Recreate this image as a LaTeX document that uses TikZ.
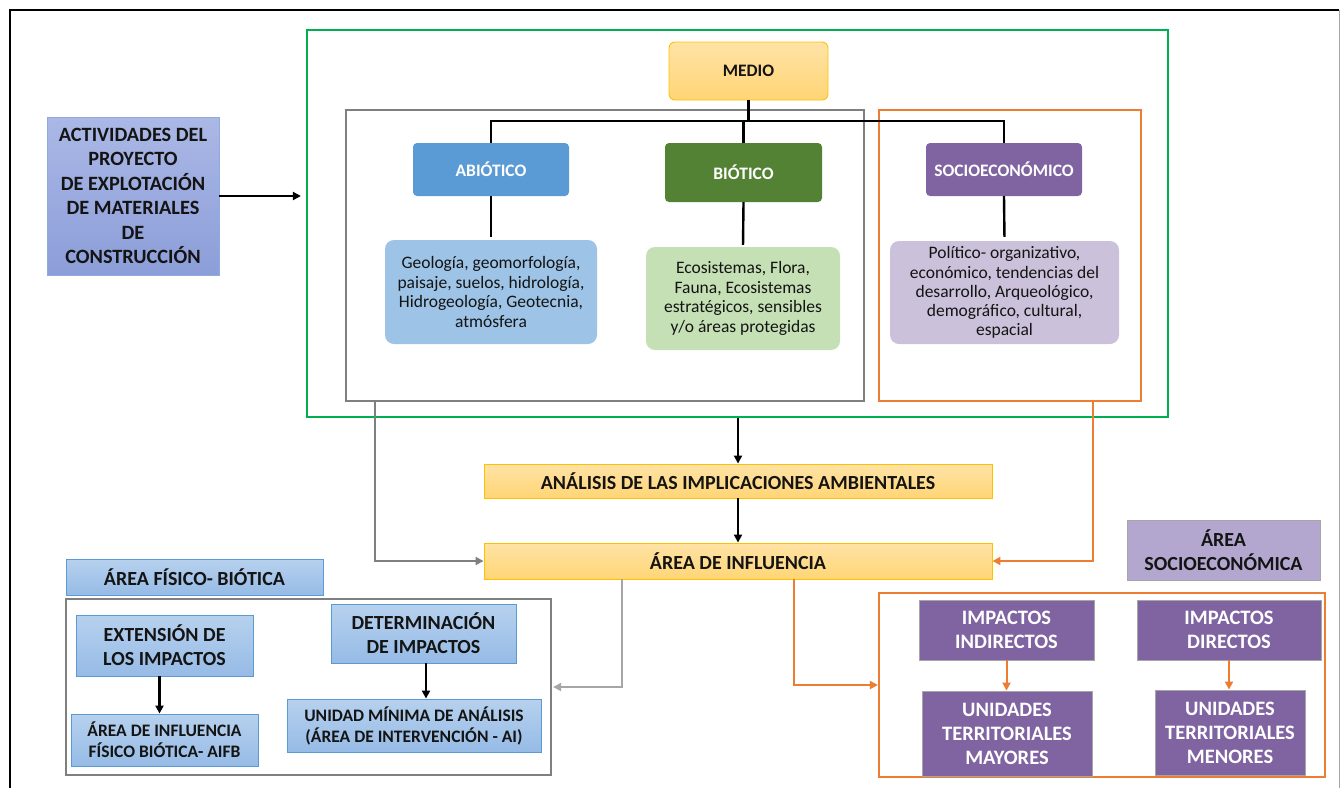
\documentclass[tikz,border=0pt]{standalone}
\usepackage{fontspec}
\setmainfont{Carlito}
\usetikzlibrary{arrows.meta}
\definecolor{cGreen}{HTML}{00B050}
\definecolor{cGrayL}{HTML}{7F7F7F}
\definecolor{cGrayLL}{HTML}{A6A6A6}
\definecolor{cOrange}{HTML}{ED7D31}
\definecolor{cYelB}{HTML}{FFC000}
\definecolor{cYelT}{HTML}{FFE3A6}
\definecolor{cYelBot}{HTML}{FFD575}
\definecolor{cBlue}{HTML}{5B9BD5}
\definecolor{cBlueL}{HTML}{9DC3E6}
\definecolor{cBlueT}{HTML}{B7D1EE}
\definecolor{cBlueBot}{HTML}{96BBE6}
\definecolor{cGreenD}{HTML}{548235}
\definecolor{cGreenL}{HTML}{C5E0B4}
\definecolor{cPurple}{HTML}{8064A2}
\definecolor{cPurpleL}{HTML}{CCC1DA}
\definecolor{cPurpleM}{HTML}{B4A7CF}
\definecolor{cActT}{HTML}{ABB8E6}
\definecolor{cActBot}{HTML}{8C9ED9}
\definecolor{cActB}{HTML}{8FAADC}
\definecolor{cTxt}{HTML}{141414}
\begin{document}
\begin{tikzpicture}[x=1pt,y=-1pt,
  bx/.style={inner sep=0pt, align=center, text=cTxt, font=\bfseries\fontsize{20}{24}\selectfont},
  hd/.style={font=\bfseries\fontsize{17.5}{21}\selectfont},
  sm/.style={font=\bfseries\fontsize{17.5}{21}\selectfont},
  desc/.style={inner sep=0pt, align=center, rounded corners=9pt, text=cTxt, font=\fontsize{17.5}{19.5}\selectfont},
  yel/.style={bx, draw=cYelB, line width=0.9pt, top color=cYelT, bottom color=cYelBot},
  blu/.style={bx, draw=cBlue, line width=0.9pt, top color=cBlueT, bottom color=cBlueBot},
  pur/.style={bx, draw=cGrayLL, line width=0.9pt, fill=cPurple, text=white, font=\bfseries\fontsize{20.5}{24}\selectfont},
  head/.style={bx, hd, rounded corners=4pt, text=white},
  frame/.style={inner sep=0pt, line width=2.2pt},
  arr/.style={line width=2.2pt, -{Triangle[length=8pt,width=8pt]}},
  tree/.style={line width=2.4pt},
]
\useasboundingbox (0,0) rectangle (1341,788);
% outer frame
\draw[line width=2.8pt, black] (10,788) -- (10,10) -- (1339,10);
\draw[line width=1pt, cGrayLL] (1339,10) -- (1339,788);

% frames
\node[frame, draw=cGreen, minimum width=861pt, minimum height=387pt] (green) at (737.5,223.5) {};
\node[frame, draw=cGrayL, minimum width=518pt, minimum height=291pt] (gray) at (605,255.5) {};
\node[frame, draw=cOrange, minimum width=262pt, minimum height=291pt] (orT) at (1010,255.5) {};
\node[frame, draw=cGrayL, minimum width=485pt, minimum height=176pt] (llg) at (308.5,687) {};
\node[frame, draw=cOrange, minimum width=446pt, minimum height=184pt] (lro) at (1102,685) {};

% left activity box
\node[bx, draw=cActB, line width=0.9pt, top color=cActT, bottom color=cActBot,
  minimum width=172pt, minimum height=158pt, font=\bfseries\fontsize{20.3}{24.4}\selectfont] (act) at (133,196)
  {ACTIVIDADES DEL\\PROYECTO\\DE EXPLOTACIÓN\\DE MATERIALES\\DE\\CONSTRUCCIÓN};

% top tree
\node[yel, hd, rounded corners=6pt, minimum width=159pt, minimum height=58pt] (medio) at (748.5,71) {MEDIO};
\node[head, fill=cBlue, minimum width=156pt, minimum height=53pt] (abio) at (491,169.5) {ABIÓTICO};
\node[head, fill=cGreenD, minimum width=157pt, minimum height=59pt] (bio) at (743.5,172.5) {BIÓTICO};
\node[head, fill=cPurple, minimum width=156pt, minimum height=53pt] (soc) at (1004,169.5) {SOCIOECONÓMICO};
\node[desc, fill=cBlueL, minimum width=212pt, minimum height=104pt] (abiod) at (491,292)
  {Geología, geomorfología,\\paisaje, suelos, hidrología,\\Hidrogeología, Geotecnia,\\atmósfera};
\node[desc, fill=cGreenL, minimum width=194pt, minimum height=103pt] (biod) at (743,298.5)
  {Ecosistemas, Flora,\\Fauna, Ecosistemas\\estratégicos, sensibles\\y/o áreas protegidas};
\node[desc, fill=cPurpleL, minimum width=229pt, minimum height=103pt, font=\fontsize{17.5}{19.1}\selectfont] (socd) at (1004.5,292.5)
  {Político- organizativo,\\económico, tendencias del\\desarrollo, Arqueológico,\\demográfico, cultural,\\espacial};

\coordinate (tj) at (748.5,121);
\draw[tree] (medio.south) -- (tj);
\draw[tree] (abio.north) |- (tj);
\draw[tree] (tj) -| (soc.north);
\draw[tree] (bio.north) -- (bio.north |- tj);
\draw[tree, shorten >=3pt] (abio.south) -- (abiod.north);
\draw[tree, shorten >=2pt] (bio.south) -- (biod.north);
\draw[tree, shorten >=4pt] (soc.south) -- (socd.north);

% middle chain
\node[yel, minimum width=508pt, minimum height=34pt] (anal) at (738,481) {ANÁLISIS DE LAS IMPLICACIONES AMBIENTALES};
\node[yel, minimum width=508pt, minimum height=36pt] (area) at (738,561) {ÁREA DE INFLUENCIA};

\draw[arr, shorten >=5pt] (act.east) -- (act.east -| green.west);
\draw[arr] (anal.north |- green.south) -- (anal.north);
\draw[arr] (anal.south) -- (area.north);
\draw[arr, cGrayL, line width=2.6pt] ([xshift=30pt]gray.south west) |- (area.west);
\draw[arr, cOrange, line width=2pt] ([xshift=-49pt]orT.south east) |- (area.east);
\draw[arr, cGrayLL, line width=2.6pt, shorten >=1pt] ([xshift=-116pt]area.south) |- (llg.east);
\draw[arr, cOrange, line width=2pt] ([xshift=56pt]area.south) |- (lro.west);

% lower left
\node[blu, minimum width=257pt, minimum height=36pt] (afb) at (194.5,577) {ÁREA FÍSICO- BIÓTICA};
\node[blu, minimum width=177pt, minimum height=61pt] (ext) at (164.5,645.5) {EXTENSIÓN DE\\LOS IMPACTOS};
\node[blu, sm, minimum width=187pt, minimum height=52pt] (aifb) at (164.5,740)
  {ÁREA DE INFLUENCIA\\FÍSICO BIÓTICA- AIFB};
\node[blu, minimum width=185pt, minimum height=59pt] (det) at (423.5,633.5) {DETERMINACIÓN\\DE IMPACTOS};
\node[blu, sm, minimum width=254pt, minimum height=53pt] (uma) at (414,725.5)
  {UNIDAD MÍNIMA DE ANÁLISIS\\(ÁREA DE INTERVENCIÓN - AI)};
\draw[arr] ([xshift=-5pt]ext.south) -- ([xshift=-5pt]ext.south |- aifb.north);
\draw[arr] ([xshift=2.5pt]det.south) -- ([xshift=2.5pt]det.south |- uma.north);

% lower right
\node[bx, draw=cGrayLL, line width=0.9pt, fill=cPurpleM, minimum width=193pt, minimum height=60pt] (ase) at (1223.5,550)
  {ÁREA\\SOCIOECONÓMICA};
\node[pur, minimum width=175pt, minimum height=60pt] (ii) at (1006.5,630) {IMPACTOS\\INDIRECTOS};
\node[pur, minimum width=170pt, minimum height=85pt] (utm) at (1007,733.5) {UNIDADES\\TERRITORIALES\\MAYORES};
\node[pur, minimum width=184pt, minimum height=60pt] (id) at (1229,630) {IMPACTOS\\DIRECTOS};
\node[pur, minimum width=150pt, minimum height=85pt] (utmen) at (1230,732.5) {UNIDADES\\TERRITORIALES\\MENORES};
\draw[arr, cOrange, line width=2pt] (ii.south) -- (ii.south |- utm.north);
\draw[arr, cOrange, line width=2pt] (id.south) -- (id.south |- utmen.north);
\end{tikzpicture}
\end{document}
